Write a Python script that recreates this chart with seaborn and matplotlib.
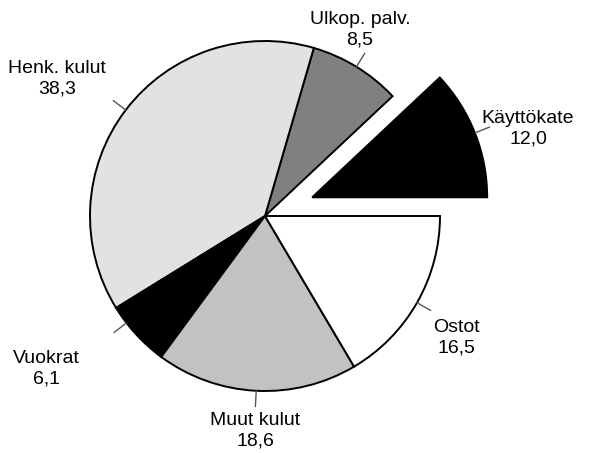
import matplotlib
matplotlib.use("Agg")
from matplotlib import pyplot as plt
import numpy as np
import seaborn as sns

# data
labels = ["Käyttökate", "Ulkop. palv.", "Henk. kulut", "Vuokrat", "Muut kulut", "Ostot"]
values = [12.0, 8.5, 38.3, 6.1, 18.6, 16.5]
value_text = ["12,0", "8,5", "38,3", "6,1", "18,6", "16,5"]

# styling
colors = ["#000000", "#808080", "#e2e2e2", "#000000", "#c2c2c2", "#ffffff"]
explode_frac = [0.29, 0, 0, 0, 0, 0]
label_pos = [(528, 129), (360, 30), (57, 79), (46, 369), (255, 431), (456, 338)]
leader_shift = [0, 0, 0, -5, 0, 0]   # degrees

sns.set_theme(style="white")
plt.rcParams['font.family'] = ['Liberation Sans', 'DejaVu Sans']

fig = plt.figure(figsize=(5.9, 4.53), dpi=100)
ax = fig.add_axes([0, 0, 1, 1])

cx, cy, r = 265, 453 - 216, 175
wedges, _ = ax.pie(values, colors=colors, explode=[e * r for e in explode_frac],
                   startangle=0, counterclock=True, center=(cx, cy), radius=r,
                   wedgeprops=dict(edgecolor="black", linewidth=1.4))

# leader lines and labels
for w, lab, val, pos, sh in zip(wedges, labels, value_text, label_pos, leader_shift):
    ang = np.deg2rad((w.theta1 + w.theta2) / 2 + sh)
    wx, wy = w.center
    x0, y0 = wx + r * np.cos(ang), wy + r * np.sin(ang)
    x1, y1 = wx + 1.09 * r * np.cos(ang), wy + 1.09 * r * np.sin(ang)
    ax.plot([x0, x1], [y0, y1], color="#555555", lw=1)
    ax.text(pos[0], 453 - pos[1], lab + "\n" + val, ha="center", va="center",
            fontsize=14, linespacing=1.3, color="black")

ax.set_xlim(0, 590)
ax.set_ylim(0, 453)
ax.set_aspect("equal")
ax.axis("off")

fig.savefig("out.png", dpi=100, facecolor="white")
